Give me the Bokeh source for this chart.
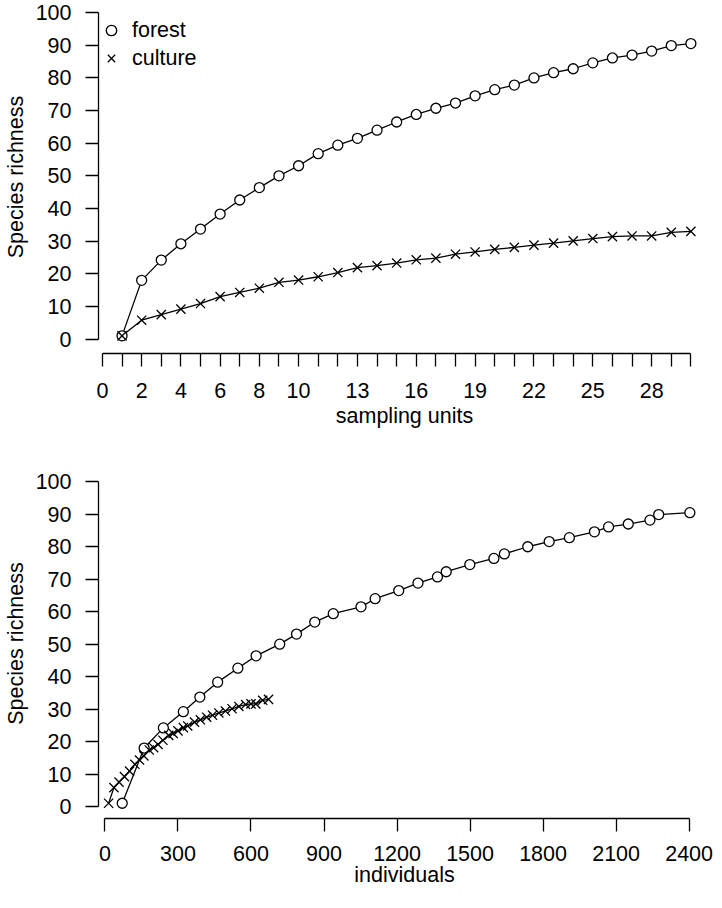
from bokeh.plotting import figure
from bokeh.models import FixedTicker, Range1d, Legend, LegendItem
from bokeh.layouts import column
from bokeh.embed import file_html
from bokeh.resources import INLINE

# ---- data ----
sampling_units = list(range(1, 31))
forest_richness = [1, 18, 24.2, 29.2, 33.7, 38.3, 42.6, 46.4, 50.0, 53.1,
                   56.8, 59.4, 61.5, 64.0, 66.5, 68.8, 70.7, 72.3, 74.5, 76.4,
                   77.8, 80.0, 81.6, 82.8, 84.6, 86.1, 87.0, 88.2, 89.9, 90.5]
culture_richness = [1, 5.8, 7.5, 9.2, 10.9, 13.0, 14.3, 15.6, 17.4, 18.1,
                    19.1, 20.4, 21.9, 22.5, 23.3, 24.3, 24.8, 26.0, 26.7, 27.5,
                    28.1, 28.8, 29.4, 30.1, 30.8, 31.4, 31.6, 31.6, 32.7, 33.0]
forest_individuals = [71, 161, 240, 322, 390, 463, 546, 621, 718, 787,
                      862, 938, 1052, 1110, 1207, 1286, 1366, 1402, 1499, 1598,
                      1641, 1737, 1825, 1908, 2011, 2069, 2150, 2239, 2275, 2403]
culture_individuals = [15, 37, 58, 80, 101, 123, 142, 160, 182, 200,
                       218, 238, 262, 280, 300, 322, 340, 368, 392, 418,
                       442, 468, 495, 522, 550, 578, 600, 620, 648, 672]
series_labels = ["forest", "culture"]
sampling_ticks = list(range(0, 31))
sampling_tick_labels = [0, 2, 4, 6, 8, 10, 13, 16, 19, 22, 25, 28]
individual_ticks = [0, 300, 600, 900, 1200, 1500, 1800, 2100, 2400]
richness_ticks = list(range(0, 101, 10))
x_titles = ["sampling units", "individuals"]
y_title = "Species richness"

FONT = "Liberation Sans"
FS = "21.5px"
LW = 1.3


def style(p, xticks, xbounds, xtitle, overrides=None, label_standoff=16,
          title_standoff=3):
    p.outline_line_color = None
    p.xgrid.visible = False
    p.ygrid.visible = False
    p.background_fill_color = "white"
    p.border_fill_color = "white"
    xa = p.xaxis[0]
    ya = p.yaxis[0]
    xa.ticker = FixedTicker(ticks=xticks)
    xa.bounds = xbounds
    ya.ticker = FixedTicker(ticks=richness_ticks)
    ya.bounds = (0, 100)
    if overrides:
        xa.major_label_overrides = overrides
    for ax in (xa, ya):
        ax.axis_line_width = LW
        ax.axis_line_color = "black"
        ax.major_tick_line_width = LW
        ax.major_tick_line_color = "black"
        ax.major_tick_out = 13
        ax.major_tick_in = 0
        ax.minor_tick_line_color = None
        ax.major_label_text_font = FONT
        ax.major_label_text_font_size = FS
        ax.major_label_text_color = "black"
        ax.axis_label_text_font = FONT
        ax.axis_label_text_font_size = FS
        ax.axis_label_text_font_style = "normal"
        ax.axis_label_text_color = "black"
    xa.axis_label = xtitle
    ya.axis_label = y_title
    xa.major_label_standoff = label_standoff
    ya.major_label_standoff = 14
    ya.major_label_orientation = "horizontal"
    xa.axis_label_standoff = title_standoff
    ya.axis_label_standoff = 5


def draw(p, fx, fy, cx, cy):
    p.line(fx, fy, line_color="black", line_width=LW)
    p.line(cx, cy, line_color="black", line_width=LW)
    rf = p.scatter(fx, fy, marker="circle", size=10, fill_color="white",
                   line_color="black", line_width=LW)
    rc = p.scatter(cx, cy, marker="x", size=13, line_color="black",
                   line_width=LW)
    return rf, rc


p1 = figure(width=714, height=440, x_range=Range1d(-0.2, 31.0),
            y_range=Range1d(-4.4, 103.7), output_backend="svg",
            toolbar_location=None, min_border_left=93, min_border_right=4,
            min_border_top=0, min_border_bottom=87)
rf1, rc1 = draw(p1, sampling_units, forest_richness, sampling_units, culture_richness)
style(p1, sampling_ticks, (0, 30), x_titles[0],
      overrides={t: (str(t) if t in sampling_tick_labels else "") for t in sampling_ticks},
      label_standoff=16, title_standoff=3)

legend = Legend(items=[LegendItem(label=series_labels[0], renderers=[rf1]),
                       LegendItem(label=series_labels[1], renderers=[rc1])],
                location=(0, 281), margin=0, padding=8, spacing=0,
                glyph_width=26, glyph_height=28, label_height=28,
                label_standoff=8, border_line_color=None,
                background_fill_alpha=0, label_text_font=FONT,
                label_text_font_size=FS, label_text_color="black")
p1.add_layout(legend)

p2 = figure(width=714, height=452, x_range=Range1d(-26.5, 2487.8),
            y_range=Range1d(-3.7, 104.1), output_backend="svg",
            toolbar_location=None, min_border_left=93, min_border_right=4,
            min_border_top=28, min_border_bottom=74)
draw(p2, forest_individuals, forest_richness, culture_individuals, culture_richness)
style(p2, individual_ticks, (0, 2400), x_titles[1],
      label_standoff=14, title_standoff=-1)

layout = column(p1, p2, spacing=0)
open("out.html", "w").write(file_html(layout, INLINE))
